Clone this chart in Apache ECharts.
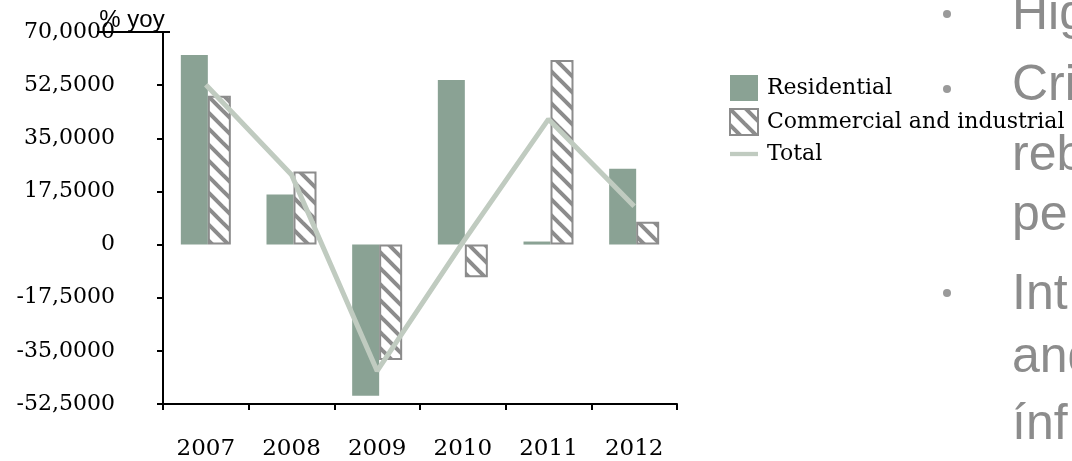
<!DOCTYPE html>
<html>
<head>
<meta charset="utf-8">
<script src="https://cdn.jsdelivr.net/npm/echarts@6/dist/echarts.min.js"></script>
<style>
  html, body { margin: 0; padding: 0; background: #fff; }
  #main { width: 1072px; height: 461px; }
</style>
</head>
<body>
<div id="main"></div>
<script>
// 数据
const years = ['2007', '2008', '2009', '2010', '2011', '2012'];
const residential = [62.4, 16.5, -49.8, 54.2, 1.0, 25.0];
const commercial = [49.0, 24.1, -38.0, -10.8, 60.8, 7.5];
const total = [52.6, 23.0, -41.6, 0.7, 41.3, 12.6];

// 右侧幻灯片文字（被裁切）
const slideLines = [
  { text: 'Hig', base: 32 },
  { text: 'Cri', base: 103 },
  { text: 'reb', base: 173 },
  { text: 'pe', base: 233 },
  { text: 'Int', base: 312 },
  { text: 'and', base: 375 },
  { text: 'ínf', base: 442 }
];
const bulletY = [14, 89, 293];

// 斜线填充
function stripePattern() {
  const size = 16;
  const c = document.createElement('canvas');
  c.width = size;
  c.height = size;
  const ctx = c.getContext('2d');
  ctx.fillStyle = '#ffffff';
  ctx.fillRect(0, 0, size, size);
  ctx.strokeStyle = '#8c8c8c';
  ctx.lineWidth = 4;
  for (let k = -1; k <= 1; k++) {
    ctx.beginPath();
    ctx.moveTo(k * size - 2, -2);
    ctx.lineTo(k * size + size + 2, size + 2);
    ctx.stroke();
  }
  return { image: c, repeat: 'repeat' };
}

const chart = echarts.init(document.getElementById('main'));
const serif = 'DejaVu Serif';

const graphics = [
  {
    type: 'text',
    style: { x: 132, y: 20, text: '% yoy', font: '24px "Liberation Sans"', fill: '#000', textAlign: 'center', textVerticalAlign: 'middle' }
  },
  {
    type: 'line',
    shape: { x1: 97, y1: 32, x2: 170, y2: 32 },
    style: { stroke: '#000', lineWidth: 2 }
  }
];
slideLines.forEach(l => {
  graphics.push({
    type: 'text',
    style: { x: 1012, y: l.base - 17, text: l.text, font: '50px "Liberation Sans"', fill: '#8c8c8c', textAlign: 'left', textVerticalAlign: 'middle' }
  });
});
bulletY.forEach(y => {
  graphics.push({
    type: 'circle',
    shape: { cx: 947, cy: y, r: 4 },
    style: { fill: '#9a9a9a' }
  });
});

chart.setOption({
  animation: false,
  backgroundColor: '#fff',
  grid: { left: 163, top: 32, width: 514, height: 373, containLabel: false },
  legend: {
    orient: 'vertical',
    left: 724,
    top: 70,
    itemWidth: 28,
    itemHeight: 26,
    itemGap: 7,
    textStyle: { fontFamily: serif, fontSize: 22, color: '#000', padding: [0, 0, 0, 4] },
    data: [
      { name: 'Residential', icon: 'rect' },
      { name: 'Commercial and industrial', icon: 'rect' },
      { name: 'Total', icon: 'path://M0,0H26V4H0Z' }
    ]
  },
  xAxis: {
    type: 'category',
    data: years,
    position: 'bottom',
    axisLine: { onZero: false, lineStyle: { color: '#000', width: 2 } },
    axisTick: { show: true, inside: false, length: 6, alignWithLabel: false, lineStyle: { color: '#000', width: 2 } },
    axisLabel: { fontFamily: serif, fontSize: 23, color: '#000', margin: 34 },
    splitLine: { show: false }
  },
  yAxis: {
    type: 'value',
    min: -52.5,
    max: 70,
    interval: 17.5,
    axisLine: { show: true, lineStyle: { color: '#000', width: 2 } },
    axisTick: { show: true, length: 6, lineStyle: { color: '#000', width: 2 } },
    axisLabel: {
      fontFamily: serif,
      fontSize: 22,
      color: '#000',
      margin: 48,
      formatter: v => (v === 0 ? '0' : v.toFixed(4).replace('.', ','))
    },
    splitLine: { show: false }
  },
  series: [
    {
      name: 'Residential',
      type: 'bar',
      data: residential,
      barWidth: 27,
      barGap: '0%',
      itemStyle: { color: '#8aa294' }
    },
    {
      name: 'Commercial and industrial',
      type: 'bar',
      data: commercial,
      barWidth: 23,
      barGap: '0%',
      itemStyle: { color: stripePattern(), borderColor: '#8c8c8c', borderWidth: 2 }
    },
    {
      name: 'Total',
      type: 'line',
      data: total,
      symbol: 'none',
      lineStyle: { color: '#c0cbc0', width: 5 },
      itemStyle: { color: '#c0cbc0' },
      z: 3
    }
  ],
  graphic: graphics
});
</script>
</body>
</html>
